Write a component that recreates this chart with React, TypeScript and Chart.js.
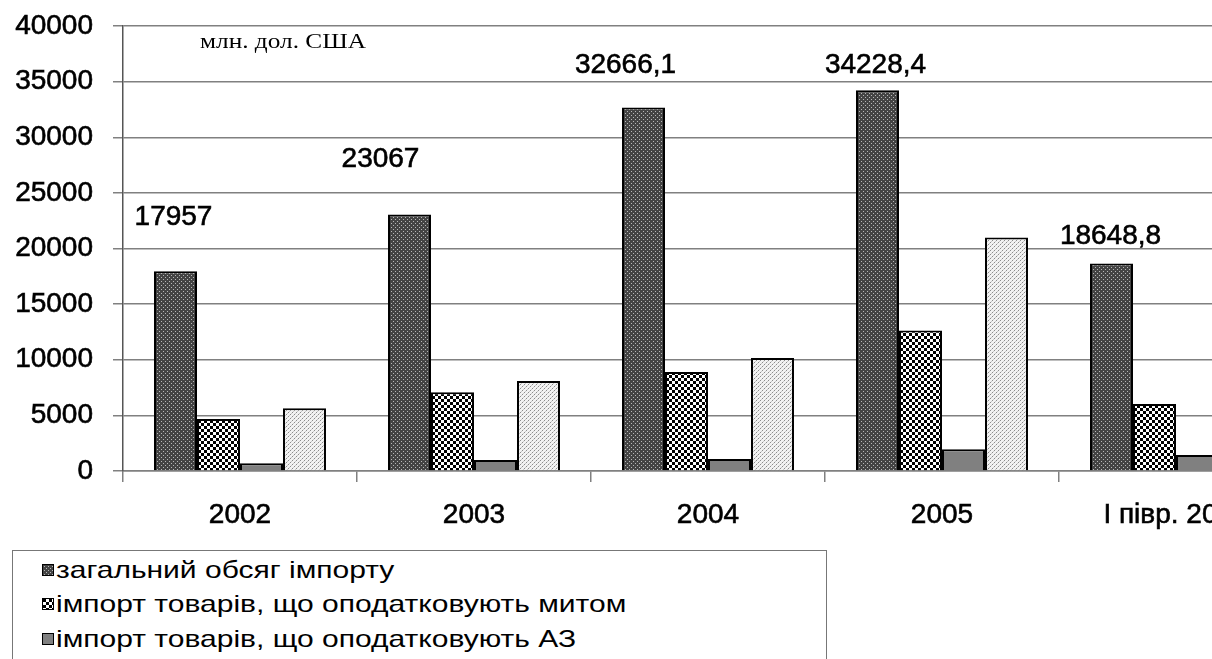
import React, { useEffect, useRef } from "react";
import { Chart, registerables } from "chart.js";

Chart.register(...registerables);

// ---- data ----
const categories = ["2002", "2003", "2004", "2005", "І півр. 2006"];
const seriesNames = [
  "загальний обсяг імпорту",
  "імпорт товарів, що оподатковують митом",
  "імпорт товарів, що оподатковують АЗ",
  "імпорт товарів, що оподатковують ПДВ",
];
const totalImport = [17957, 23067, 32666.1, 34228.4, 18648.8];
const dutyImport = [4670, 7080, 8900, 12620, 6030];
const exciseImport = [690, 990, 1080, 1950, 1440];
const vatImport = [5640, 8100, 10160, 20980, 11000];
const yMin = 0;
const yMax = 40000;
const yStep = 5000;
const unitLabel = "млн. дол. США";

// manual nudges of the value labels (relative to each bar's top centre)
const labelNudges: [number, number][] = [
  [-2, -46],
  [-29, -47],
  [-18, -35],
  [-2, -17],
  [-1, -20],
];

const SANS = "'Liberation Sans', Arial, sans-serif";
const SERIF = "'Liberation Serif', 'Times New Roman', serif";

function makeTile(kind: number): HTMLCanvasElement {
  const c = document.createElement("canvas");
  const ctx = c.getContext("2d")!;
  if (kind === 0) {
    c.width = 4; c.height = 4;
    ctx.fillStyle = "#444444"; ctx.fillRect(0, 0, 4, 4);
    ctx.fillStyle = "#b8b8b8";
    ctx.fillRect(1, 1, 1, 1); ctx.fillRect(3, 3, 1, 1);
  } else if (kind === 1) {
    c.width = 6; c.height = 6;
    ctx.fillStyle = "#ffffff"; ctx.fillRect(0, 0, 6, 6);
    ctx.fillStyle = "#000000";
    ctx.fillRect(0, 0, 3, 3); ctx.fillRect(3, 3, 3, 3);
  } else if (kind === 2) {
    c.width = 2; c.height = 2;
    ctx.fillStyle = "#808080"; ctx.fillRect(0, 0, 2, 2);
  } else {
    c.width = 4; c.height = 4;
    ctx.fillStyle = "#f2f2f2"; ctx.fillRect(0, 0, 4, 4);
    ctx.fillStyle = "#8c8c8c";
    ctx.fillRect(0, 0, 1, 1); ctx.fillRect(2, 2, 1, 1);
    ctx.fillStyle = "#c8c8c8";
    ctx.fillRect(1, 3, 1, 1); ctx.fillRect(3, 1, 1, 1);
  }
  return c;
}

const fmt = (v: number) => String(v).replace(".", ",");

const labelPlugin = {
  id: "valueLabels",
  afterDatasetsDraw(chart: any) {
    const ctx = chart.ctx;
    const meta = chart.getDatasetMeta(0);
    ctx.save();
    ctx.fillStyle = "#000";
    ctx.strokeStyle = "#000";
    ctx.lineWidth = 0.6;
    ctx.font = `28px ${SANS}`;
    ctx.textAlign = "center";
    ctx.textBaseline = "alphabetic";
    meta.data.forEach((bar: any, i: number) => {
      const [dx, dy] = labelNudges[i];
      const t = fmt(totalImport[i]);
      ctx.fillText(t, bar.x + dx, bar.y + dy);
      ctx.strokeText(t, bar.x + dx, bar.y + dy);
    });
    ctx.font = `22px ${SERIF}`;
    ctx.textAlign = "left";
    ctx.translate(chart.chartArea.left + 77, chart.chartArea.top + 22);
    ctx.scale(1.15, 1);
    ctx.fillText(unitLabel, 0, 0);
    ctx.restore();
  },
};

export default function App() {
  const ref = useRef<HTMLCanvasElement>(null);
  const tiles = useRef<HTMLCanvasElement[]>([]);
  if (tiles.current.length === 0 && typeof document !== "undefined") {
    tiles.current = [0, 1, 2, 3].map(makeTile);
  }

  useEffect(() => {
    const canvas = ref.current!;
    const ctx = canvas.getContext("2d")!;
    const fills = tiles.current.map((t) => ctx.createPattern(t, "repeat")!);
    const values = [totalImport, dutyImport, exciseImport, vatImport];
    const chart = new Chart(canvas, {
      type: "bar",
      data: {
        labels: categories,
        datasets: values.map((d, i) => ({
          label: seriesNames[i],
          data: d,
          backgroundColor: fills[i] as any,
          borderColor: "#000",
          borderWidth: 2,
          categoryPercentage: 0.735,
          barPercentage: 1,
        })),
      },
      options: {
        responsive: false,
        animation: false,
        devicePixelRatio: 1,
        layout: { padding: { top: 26, right: 7, left: 0, bottom: 0 } },
        plugins: { legend: { display: false }, tooltip: { enabled: false } },
        scales: {
          x: {
            ticks: { color: "#000", font: { family: SANS, size: 28 }, padding: 16, maxRotation: 0, autoSkip: false, textStrokeColor: "#000", textStrokeWidth: 0.6 },
            grid: { drawOnChartArea: false, drawTicks: true, tickLength: 11, tickColor: "#808080", lineWidth: 1.5, offset: true },
            border: { color: "#808080", width: 1.5 },
            afterFit: (s: any) => { s.height = 60; },
          },
          y: {
            min: yMin,
            max: yMax,
            ticks: { stepSize: yStep, color: "#000", font: { family: SANS, size: 28 }, padding: 20, callback: (v: any) => String(v), textStrokeColor: "#000", textStrokeWidth: 0.6 },
            grid: { color: "#808080", lineWidth: 1.5, tickLength: 10, tickColor: "#808080" },
            border: { color: "#555", width: 1.5 },
            afterFit: (s: any) => { s.width = 123; s.paddingTop = 0; s.paddingBottom = 0; },
          },
        },
      },
      plugins: [labelPlugin],
    });
    return () => chart.destroy();
  }, []);

  const legendUrls = tiles.current.map((t) => t.toDataURL());

  return (
    <div style={{ position: "absolute", left: 0, top: 0, width: 1212, height: 659, overflow: "hidden", background: "#fff" }}>
      <canvas ref={ref} width={1300} height={531} style={{ position: "absolute", left: 0, top: 0, width: 1300, height: 531 }} />
      <div style={{ position: "absolute", left: 12, top: 550, width: 813, height: 140, border: "1px solid #777", background: "#fff" }}>
        {seriesNames.map((name, i) => (
          <div key={i} style={{ position: "absolute", left: 29, top: 2 + i * 34.3, height: 34, display: "flex", alignItems: "center", whiteSpace: "nowrap" }}>
            <span style={{ display: "inline-block", width: 10, height: 10, border: "1px solid #000", backgroundImage: `url(${legendUrls[i]})`, marginRight: 2 }} />
            <span style={{ display: "inline-block", fontFamily: SANS, fontSize: 24, color: "#000", transform: "scaleX(1.25)", transformOrigin: "left center" }}>{name}</span>
          </div>
        ))}
      </div>
    </div>
  );
}
